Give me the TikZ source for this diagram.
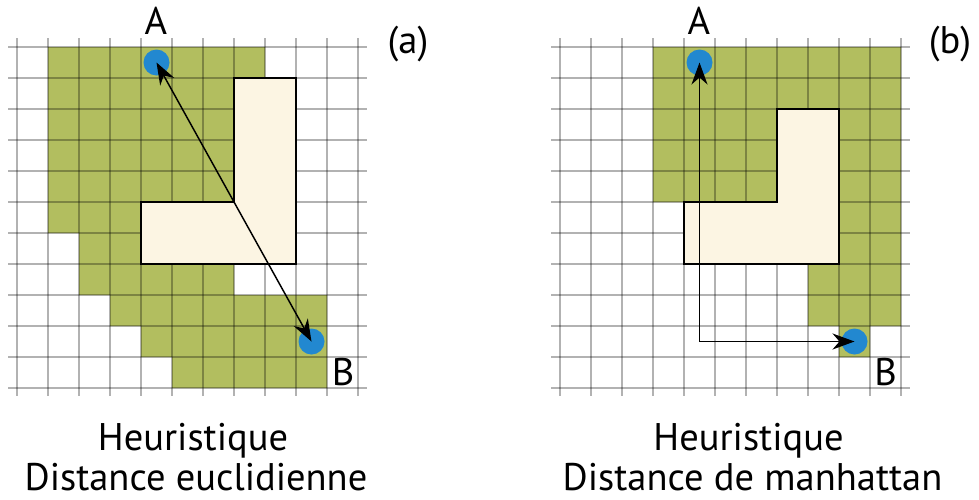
\documentclass[tikz,border=0pt]{standalone}
\usepackage{fontspec}
\setmainfont{PT Sans}
\usetikzlibrary{arrows.meta}
\definecolor{grn}{RGB}{178,190,95}
\definecolor{cream}{RGB}{252,245,227}
\definecolor{dotblue}{RGB}{34,136,208}
\tikzset{
  gl/.style={draw=black, opacity=0.3, line width=1.3pt},
  obst/.style={fill=cream, draw=black, line width=1.8pt, line join=miter},
  dot/.style={circle, fill=dotblue, minimum size=26pt, inner sep=0pt},
  lbl/.style={font=\fontsize{38.5}{44}\selectfont, inner sep=0pt, anchor=base},
  arr/.style={{Stealth[length=22pt,width=16pt,inset=7pt]}-{Stealth[length=22pt,width=16pt,inset=7pt]}, line width=1.5pt},
}
\begin{document}
\begin{tikzpicture}[x=1pt,y=-1pt]
\useasboundingbox (0,0) rectangle (979,499);
% ---------- panel (a)
\begin{scope}[shift={(17,47)}, x=31pt, y=-31pt]
  \fill[grn] (1,0) -- (8,0) -- (8,1) -- (7,1) -- (7,8) -- (10,8) -- (10,11) -- (5,11) -- (5,10) -- (4,10) -- (4,9) -- (3,9) -- (3,8) -- (2,8) -- (2,6) -- (1,6) -- cycle;
  \foreach \i in {0,...,11} {
    \draw[gl] (\i,-0.28) -- (\i,11.26);
    \draw[gl] (-0.28,\i) -- (11.28,\i);
  }
  \draw[obst] (7,1) -- (9,1) -- (9,7) -- (4,7) -- (4,5) -- (7,5) -- cycle;
  \node[dot] (A1) at (4.5,0.5) {};
  \node[dot] (B1) at (9.5,9.5) {};
  \draw[arr] (A1.center) -- (B1.center);
\end{scope}
\node[lbl] (la1) at (156,34) {A};
\node[lbl] (lb1) at (343,385) {B};
\node[lbl] (pa) at (408,53) {(a)};
\node[lbl] (ca1) at (193,450) {Heuristique};
\node[lbl] (ca2) at (196,490) {Distance euclidienne};
% ---------- panel (b)
\begin{scope}[shift={(560,47)}, x=31pt, y=-31pt]
  \fill[grn] (3,0) -- (11,0) -- (11,9) -- (10,9) -- (10,10) -- (9,10) -- (9,9) -- (8,9) -- (8,7) -- (4,7) -- (4,5) -- (3,5) -- cycle;
  \foreach \i in {0,...,11} {
    \draw[gl] (\i,-0.28) -- (\i,11.26);
    \draw[gl] (-0.28,\i) -- (11.28,\i);
  }
  \draw[obst] (7,2) -- (9,2) -- (9,7) -- (4,7) -- (4,5) -- (7,5) -- cycle;
  \node[dot] (A2) at (4.5,0.5) {};
  \node[dot] (B2) at (9.5,9.5) {};
  \draw[arr] (A2.center) |- (B2.center);
\end{scope}
\node[lbl] (la2) at (699,34) {A};
\node[lbl] (lb2) at (885.5,385) {B};
\node[lbl] (pb) at (950,53) {(b)};
\node[lbl] (cb1) at (748.5,450) {Heuristique};
\node[lbl] (cb2) at (752.5,490) {Distance de manhattan};
\end{tikzpicture}
\end{document}
